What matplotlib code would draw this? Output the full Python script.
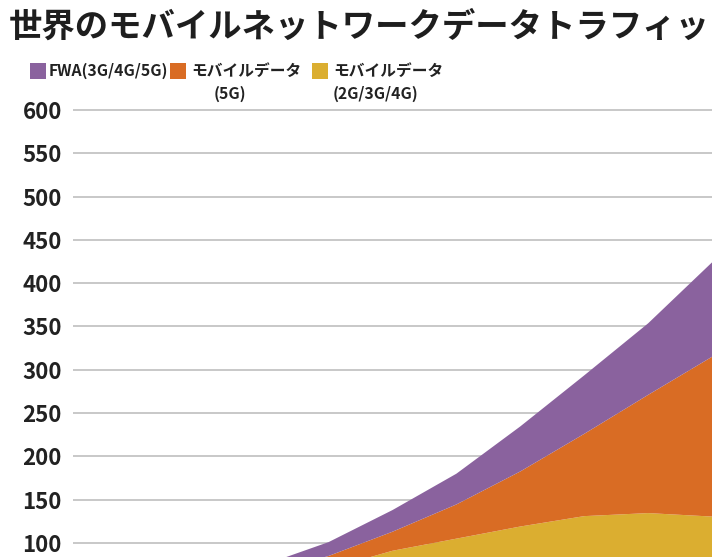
import matplotlib
matplotlib.use("Agg")
import matplotlib.pyplot as plt
from matplotlib.patches import Rectangle

plt.rcParams['font.family'] = ['Noto Sans CJK JP', 'DejaVu Sans']

# ---- data (EB / month) ----
years = [2018, 2019, 2020, 2021, 2022, 2023, 2024, 2025, 2026, 2027, 2028]
mobile_2g3g4g = [20, 30, 42, 56, 70, 91, 105, 119, 131, 134.5, 130.5]
mobile_5g = [0, 0.5, 3, 8, 15, 22, 39.5, 63.6, 95, 136.5, 184.5]
fwa = [2, 4, 7, 11, 16, 25, 35.5, 52, 67.5, 82.6, 109]

series_labels = ["FWA(3G/4G/5G)", "モバイルデータ\n(5G)", "モバイルデータ\n(2G/3G/4G)"]
colors = ["#8a629e", "#d96c24", "#dbae30"]
yticks = [100, 150, 200, 250, 300, 350, 400, 450, 500, 550, 600]
title = "世界のモバイルネットワークデータトラフィッ"

W, H = 712, 557
fig = plt.figure(figsize=(W / 100, H / 100), dpi=100)
fig.patch.set_facecolor("white")

ymin, ymax = 83.8, 610
ppu = 43.3 / 50.0
ax_h = (ymax - ymin) * ppu
left_px = 73
ax = fig.add_axes([left_px / W, 0, (W - left_px) / W, ax_h / H])

ax.stackplot(years, mobile_2g3g4g, mobile_5g, fwa,
             colors=[colors[2], colors[1], colors[0]], linewidth=0)
ax.set_xlim(years[0], years[-1])
ax.set_ylim(ymin, ymax)
ax.set_yticks(yticks)
ax.set_xticks([])
ax.set_axisbelow(True)
ax.yaxis.grid(True, color="#c8c8c8", linewidth=1.4)
for s in ax.spines.values():
    s.set_visible(False)
ax.tick_params(axis="y", length=0, pad=8, labelsize=16, labelcolor="#222222")
for t in ax.get_yticklabels():
    t.set_fontweight("bold")


def fx(px):
    return px / W


def fy(py):
    return 1 - py / H


# title, sized so that it spans the figure width like the reference
t = fig.text(fx(9), fy(27), title, fontsize=24, fontweight="bold", color="#1e1e1e",
             ha="left", va="center")
r = fig.canvas.get_renderer()
w = t.get_window_extent(r).width
t.set_fontsize(24 * (711 - 9) / w)

# legend
sq = 16
fs = 11.3
legend_items = [
    (30, 49, None),
    (170, 191, 230),
    (312, 333, 375),
]
for (sx, tx, cx), lab, col in zip(legend_items, series_labels, colors):
    fig.patches.append(Rectangle((fx(sx), fy(70.5 + sq / 2)), sq / W, sq / H,
                                 transform=fig.transFigure, facecolor=col,
                                 edgecolor="none"))
    lines = lab.split("\n")
    fig.text(fx(tx), fy(70.5), lines[0], fontsize=fs, fontweight="bold",
             color="#222222", ha="left", va="center")
    if len(lines) > 1:
        fig.text(fx(cx), fy(93.5), lines[1], fontsize=fs, fontweight="bold",
                 color="#222222", ha="center", va="center")

fig.savefig("out.png", dpi=100, facecolor="white")
